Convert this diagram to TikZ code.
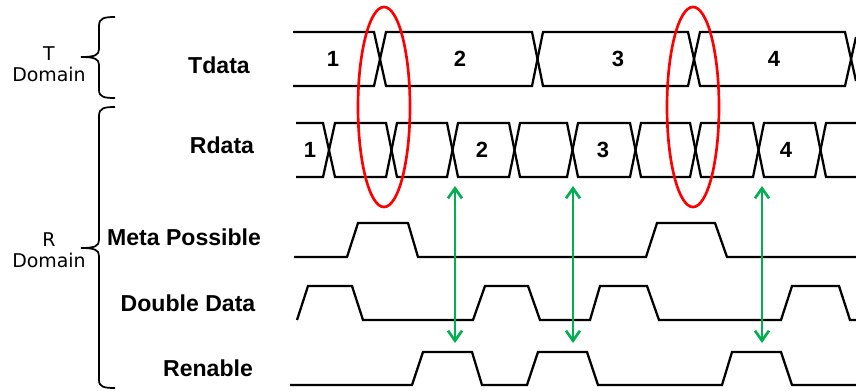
\documentclass[tikz,border=0pt]{standalone}
\usepackage{fontspec}
\newfontfamily\lblfont{Liberation Sans}
\newfontfamily\domfont{DejaVu Sans}
\usetikzlibrary{arrows.meta}

\definecolor{glitchred}{RGB}{255,0,0}
\definecolor{syncgreen}{RGB}{0,176,80}

\begin{document}
\begin{tikzpicture}[x=0.75pt,y=0.75pt,yscale=-1,xscale=1,
	wave/.style={line width=1.7pt,line join=miter},
	brc/.style={line width=1.3pt},
	glitch/.style={glitchred,line width=2pt},
	sync/.style={syncgreen,line width=2pt,{Straight Barb[length=7.5pt,width=10.5pt]}-{Straight Barb[length=7.5pt,width=10.5pt]}},
	sig/.style={anchor=center,inner sep=0.75pt,font=\lblfont\bfseries\fontsize{17.3}{20}\selectfont},
	val/.style={anchor=center,inner sep=0.75pt,font=\lblfont\bfseries\fontsize{16.5}{19}\selectfont},
	dom/.style={anchor=center,inner sep=0.75pt,align=center,font=\domfont\fontsize{14.2}{16}\selectfont}]
	\useasboundingbox (0,0) rectangle (856,390);
	
	%Shape: Brace [T domain]
	\draw [brc] (115,17) .. controls (104,17) and (99,18) .. (99,26) -- (99,49) .. controls (99,55) and (95,57) .. (81,57) ;
	\draw [brc] (81,57) .. controls (95,57) and (99,59) .. (99,65) -- (99,90) .. controls (99,97) and (104,98) .. (115,98) ;
	%Shape: Brace [R domain]
	\draw [brc] (115,107) .. controls (104,107) and (99,108) .. (99,116) -- (99,240) .. controls (99,246) and (95,248) .. (81,248) ;
	\draw [brc] (81,248) .. controls (95,248) and (99,250) .. (99,256) -- (99,380) .. controls (99,387) and (104,388) .. (115,388) ;
	
	%Straight Lines [Tdata bus]
	\draw [wave] (293,32) -- (374,32) -- (386,86) -- (532,86) -- (543,32) -- (688,32) -- (700,86) -- (845,86) -- (856,37) ;
	\draw [wave] (293,86) -- (374,86) -- (386,32) -- (532,32) -- (543,86) -- (688,86) -- (700,32) -- (845,32) -- (856,81) ;
	%Straight Lines [Rdata bus]
	\draw [wave] (296,123) -- (323,123) -- (335,177) -- (386,177) -- (397,123) -- (447,123) -- (458,177) -- (509,177) -- (520,123) -- (567,123) -- (578,177) -- (630,177) -- (641,123) -- (690,123) -- (701,177) -- (753,177) -- (764,123) -- (815,123) -- (826,177) -- (856,177) ;
	\draw [wave] (296,177) -- (323,177) -- (335,123) -- (386,123) -- (397,177) -- (447,177) -- (458,123) -- (509,123) -- (520,177) -- (567,177) -- (578,123) -- (630,123) -- (641,177) -- (690,177) -- (701,123) -- (753,123) -- (764,177) -- (815,177) -- (826,123) -- (856,123) ;
	%Straight Lines [Meta Possible]
	\draw [wave] (294,257) -- (347,257) -- (358,223) -- (408,223) -- (418,257) -- (646,257) -- (657,223) -- (715,223) -- (727,257) -- (856,257) ;
	%Straight Lines [Double Data]
	\draw [wave] (297,320) -- (308,286) -- (352,286) -- (363,320) -- (473,320) -- (485,286) -- (528,286) -- (540,320) -- (590,320) -- (600,286) -- (647,286) -- (659,320) -- (781,320) -- (792,286) -- (839,286) -- (850,320) -- (856,320) ;
	%Straight Lines [Renable]
	\draw [wave] (290,385) -- (412,385) -- (423,352) -- (472,352) -- (482,385) -- (527,385) -- (538,352) -- (587,352) -- (598,385) -- (722,385) -- (732,352) -- (781,352) -- (792,385) -- (856,385) ;
	
	%Shape: Ellipse [glitch marks]
	\draw [glitch] (384,107) ellipse [x radius=26, y radius=100] ;
	\draw [glitch] (693,107) ellipse [x radius=26, y radius=100] ;
	
	%Straight Lines [sample arrows]
	\coordinate (s1top) at (455,186) ;
	\coordinate (s1bot) at (455,343) ;
	\coordinate (s2top) at (573,186) ;
	\coordinate (s2bot) at (573,343) ;
	\coordinate (s3top) at (762,186) ;
	\coordinate (s3bot) at (762,343) ;
	\draw [sync] (s1top) -- (s1bot) ;
	\draw [sync] (s2top) -- (s2bot) ;
	\draw [sync] (s3top) -- (s3bot) ;
	
	% Text Node
	\node [dom] (tdom) at (49,64) {T\\Domain};
	% Text Node
	\node [dom] (rdom) at (49,250) {R\\Domain};
	% Text Node
	\node [sig] (tdata) at (219,65) {Tdata};
	% Text Node
	\node [sig] (rdata) at (222,145) {Rdata};
	% Text Node
	\node [sig] (meta) at (184,237) {Meta Possible};
	% Text Node
	\node [sig] (dbl) at (188,303) {Double Data};
	% Text Node
	\node [sig] (ren) at (208,368) {Renable};
	% Text Node
	\node [val] (t1) at (333,59) {1};
	\node [val] (t2) at (460,59) {2};
	\node [val] (t3) at (618,59) {3};
	\node [val] (t4) at (774,59) {4};
	% Text Node
	\node [val] (r1) at (310,150) {1};
	\node [val] (r2) at (482,150) {2};
	\node [val] (r3) at (603,150) {3};
	\node [val] (r4) at (786,150) {4};
	
\end{tikzpicture}
\end{document}
